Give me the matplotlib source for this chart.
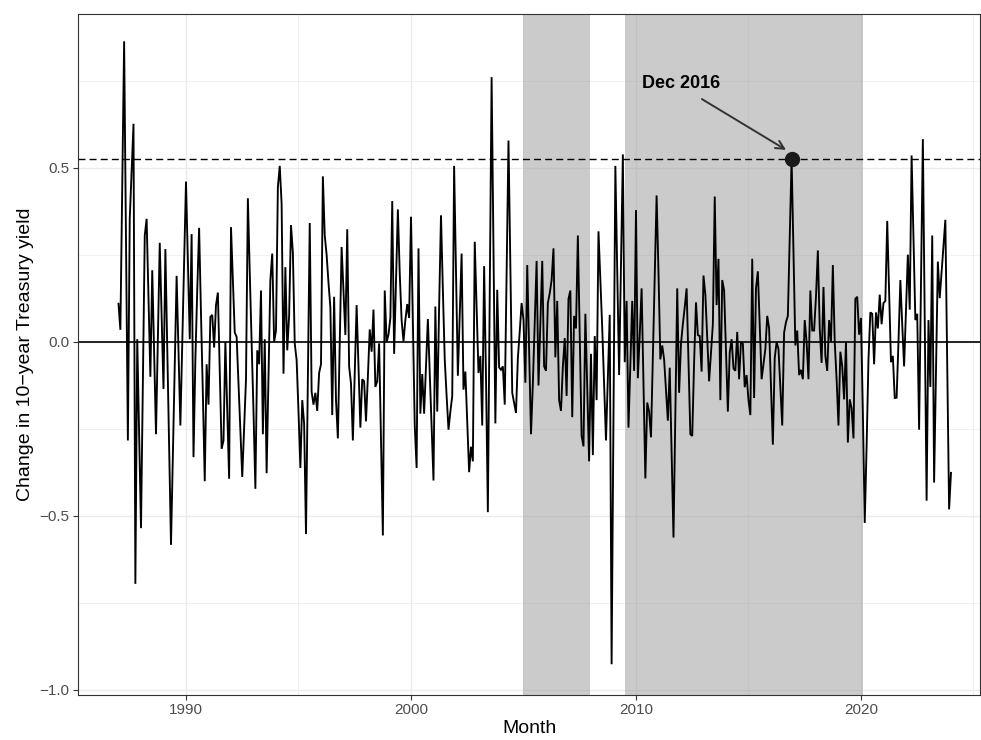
import numpy as np
import matplotlib
matplotlib.use("Agg")
import matplotlib.pyplot as plt
from matplotlib.ticker import FixedLocator, FixedFormatter

plt.rcParams['font.family'] = ['Liberation Sans', 'DejaVu Sans']
plt.rcParams['lines.scale_dashes'] = False

# ---------------- data: monthly change in 10-year Treasury yield ----------------
start_year = 1987  # first month: Jan 1987

chg_1987_1989 = [
    0.11, 0.035, 0.45, 0.864, 0.29, -0.283, 0.354, 0.49, 0.627, -0.695, 0.008, -0.26,
    -0.535, -0.11, 0.306, 0.354, 0.13, -0.10, 0.206, -0.03, -0.265, 0.01, 0.285, 0.07,
    -0.135, 0.267, -0.02, -0.30, -0.583, -0.33, -0.07, 0.19, -0.03, -0.24, 0.0, 0.23,
]
chg_1990s = [
    0.461, 0.23, 0.008, 0.31, -0.331, -0.05, 0.15, 0.328, 0.08, -0.15, -0.40, -0.064,
    -0.18, 0.072, 0.078, -0.016, 0.106, 0.142, -0.08, -0.307, -0.283, 0.0, -0.2, -0.393,
    0.33, 0.18, 0.027, 0.015, -0.12, -0.25, -0.388, -0.25, -0.107, 0.413, 0.2, 0.0,
    -0.2, -0.422, -0.024, -0.064, 0.148, -0.265, 0.008, -0.377, -0.1, 0.178, 0.254, 0.0,
    0.033, 0.445, 0.506, 0.397, -0.091, 0.215, -0.024, 0.075, 0.336, 0.257, -0.004, -0.052,
    -0.2, -0.362, -0.167, -0.234, -0.552, -0.1, 0.342, -0.143, -0.18, -0.146, -0.198, -0.089,
    -0.064, 0.476, 0.306, 0.251, 0.17, 0.1, -0.21, 0.13, -0.167, -0.277, 0.0, 0.273,
    0.15, 0.02, 0.324, -0.07, -0.119, -0.283, -0.09, 0.106, -0.07, -0.246, -0.107, -0.113,
    -0.228, -0.1, 0.036, -0.028, 0.093, -0.129, -0.113, -0.004, -0.28, -0.556, 0.148, 0.0,
    0.021, 0.069, 0.405, -0.034, 0.17, 0.381, 0.197, 0.063, 0.002, 0.063, 0.109, 0.069,
]
chg_2000s = [
    0.36, 0.06, -0.24, -0.362, 0.269, -0.206, -0.092, -0.206, -0.07, 0.066, -0.09, -0.24,
    -0.398, 0.102, -0.2, 0.1, 0.364, 0.15, -0.05, -0.155, -0.252, -0.2, -0.155, 0.506,
    0.2, -0.097, 0.08, 0.254, -0.137, -0.085, -0.23, -0.374, -0.301, -0.343, 0.288, 0.1,
    -0.089, -0.04, -0.24, 0.218, -0.1, -0.489, 0.14, 0.761, 0.26, -0.234, 0.15, -0.073,
    -0.08, -0.07, -0.18, 0.2, 0.579, 0.22, -0.146, -0.175, -0.204, -0.046, 0.03, 0.112,
    0.063, -0.117, 0.221, -0.02, -0.265, -0.119, 0.06, 0.233, -0.125, 0.05, 0.233, -0.07,
    -0.083, 0.112, 0.14, 0.178, 0.269, -0.044, 0.118, -0.167, -0.198, -0.07, 0.011, -0.155,
    0.124, 0.148, -0.216, 0.075, 0.039, 0.306, 0.02, -0.27, -0.3, 0.081, -0.13, -0.343,
    -0.034, -0.325, 0.017, -0.167, 0.318, 0.18, 0.039, -0.12, -0.283, -0.1, 0.078, -0.926,
    -0.2, 0.506, 0.2, -0.095, 0.22, 0.539, -0.058, 0.118, -0.246, -0.06, 0.118, -0.083,
]
chg_2010s = [
    0.379, -0.104, 0.02, 0.154, -0.12, -0.392, -0.174, -0.2, -0.274, -0.04, 0.19, 0.421,
    0.2, -0.05, -0.01, -0.05, -0.14, -0.226, -0.074, -0.32, -0.562, -0.2, 0.154, -0.146,
    -0.005, 0.051, 0.1, 0.154, -0.05, -0.265, -0.27, -0.058, 0.114, 0.02, 0.017, -0.085,
    0.191, 0.136, 0.01, -0.113, -0.03, 0.051, 0.418, 0.106, 0.239, -0.167, 0.178, 0.148,
    -0.03, -0.2, -0.03, 0.008, -0.076, -0.083, 0.029, -0.107, 0.0, -0.005, -0.13, -0.095,
    -0.167, -0.21, 0.239, -0.161, 0.154, 0.203, 0.05, -0.107, -0.064, -0.02, 0.075, 0.039,
    -0.13, -0.295, -0.046, 0.0, -0.02, -0.13, -0.24, 0.027, 0.057, 0.075, 0.3, 0.526,
    0.25, -0.01, 0.033, -0.095, -0.08, -0.107, 0.063, 0.0, -0.107, 0.148, 0.033, 0.033,
    0.13, 0.263, 0.039, -0.06, 0.158, -0.04, -0.083, 0.063, 0.0, 0.221, 0.0, -0.107,
    -0.24, -0.028, -0.07, -0.165, 0.0, -0.289, -0.165, -0.19, -0.277, 0.124, 0.13, 0.021,
]
chg_2020s = [
    0.069, -0.2, -0.52, -0.3, -0.05, 0.085, 0.081, -0.064, 0.085, 0.039, 0.136, 0.051,
    0.112, 0.118, 0.348, 0.15, -0.058, -0.04, -0.161, -0.16, 0.0, 0.178, 0.05, -0.07,
    0.09, 0.251, 0.093, 0.536, 0.3, 0.063, 0.081, -0.252, 0.17, 0.583, 0.06, -0.456,
    0.063, -0.129, 0.306, -0.404, -0.08, 0.231, 0.126, 0.2, 0.27, 0.351, -0.07, -0.481,
    -0.376,
]

highlight_label = "Dec 2016"
highlight_year, highlight_month = 2016, 12

shade_start = [2005.0, 2009.5]
shade_end = [2007.96, 2020.09]

x_ticks = [1990, 2000, 2010, 2020]
x_minor = [1995, 2005, 2015, 2025]
y_ticks = [-1.0, -0.5, 0.0, 0.5]
y_tick_labels = ["\u22121.0", "\u22120.5", "0.0", "0.5"]
y_minor = [-0.75, -0.25, 0.25, 0.75]

values = np.array(chg_1987_1989 + chg_1990s + chg_2000s + chg_2010s + chg_2020s)
t = start_year + np.arange(len(values)) / 12.0
hi_idx = (highlight_year - start_year) * 12 + (highlight_month - 1)
hi_t, hi_v = t[hi_idx], values[hi_idx]

# ---------------- figure ----------------
W, H = 981, 740
fig = plt.figure(figsize=(W / 100, H / 100), dpi=100)
L, R, T, B = 78, 980, 14, 695
ax = fig.add_axes([L / W, (H - B) / H, (R - L) / W, (B - T) / H])

ax.set_xlim(1985.2, 2025.29)
ax.set_ylim(-1.0144, 0.9425)

grid_col = "#EBEBEB"
for v in x_ticks:
    ax.axvline(v, color=grid_col, lw=1.0, zorder=0)
for v in x_minor:
    ax.axvline(v, color=grid_col, lw=0.5, zorder=0)
for v in y_ticks:
    ax.axhline(v, color=grid_col, lw=1.0, zorder=0)
for v in y_minor:
    ax.axhline(v, color=grid_col, lw=0.5, zorder=0)

for s, e in zip(shade_start, shade_end):
    ax.axvspan(s, e, color="#999999", alpha=0.5, lw=0, zorder=1)

ax.axhline(0, color="black", lw=1.2, zorder=2)
ax.axhline(hi_v, color="black", lw=1.0, dashes=(5.0, 3.0), zorder=2)

ax.plot(t, values, color="black", lw=1.35, zorder=3, solid_joinstyle="miter")
ax.plot([hi_t], [hi_v], "o", color="#1A1A1A", ms=10, zorder=4)

ax.annotate("", xy=(2016.67, 0.552), xytext=(2012.93, 0.698),
            arrowprops=dict(arrowstyle="->", color="#333333", lw=1.4,
                            mutation_scale=15, shrinkA=0, shrinkB=0), zorder=5)
ax.text(2012.0, 0.744, highlight_label, fontsize=13, fontweight="bold",
        ha="center", va="center", color="black", zorder=5)

ax.xaxis.set_major_locator(FixedLocator(x_ticks))
ax.set_xticklabels([str(v) for v in x_ticks])
ax.yaxis.set_major_locator(FixedLocator(y_ticks))
ax.yaxis.set_major_formatter(FixedFormatter(y_tick_labels))
ax.tick_params(axis="both", which="major", length=3.5, width=0.8, color="#333333",
               labelsize=11, labelcolor="#4D4D4D", pad=2.5)
ax.tick_params(which="minor", length=0)

for sp in ax.spines.values():
    sp.set_color("#333333")
    sp.set_linewidth(0.8)
    sp.set_zorder(6)

ax.set_xlabel("Month", fontsize=14, color="black", labelpad=2)
ax.set_ylabel("Change in 10\u2212year Treasury yield", fontsize=14, color="black", labelpad=4)

fig.savefig("out.png", dpi=100)
